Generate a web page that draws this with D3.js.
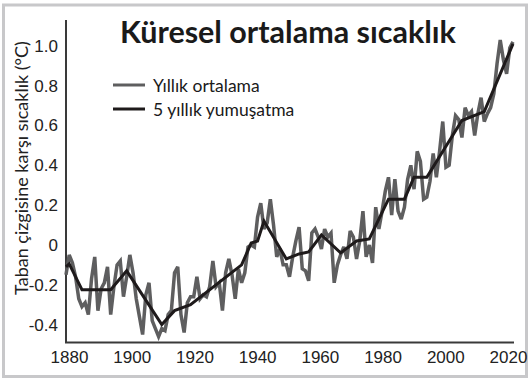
<!DOCTYPE html>
<html><head><meta charset="utf-8">
<script src="https://cdn.jsdelivr.net/npm/d3@7"></script>
<style>
html,body{margin:0;padding:0;background:#fff;}
svg{display:block;}
</style></head>
<body>
<svg id="chart" width="531" height="381"></svg>
<script>
// ---- data ----
const title = "Küresel ortalama sıcaklık";
const yLabel = "Taban çizgisine karşı sıcaklık (°C)";
const seriesNames = ["Yıllık ortalama", "5 yıllık yumuşatma"];
const startYear = 1880;
const annualValues = [
 -0.16,-0.06,-0.10,-0.17,-0.28,-0.32,-0.30,-0.36,-0.18,-0.07,
 -0.34,-0.23,-0.20,-0.12,-0.36,-0.22,-0.11,-0.09,-0.27,-0.17,
 -0.06,-0.15,-0.28,-0.37,-0.46,-0.26,-0.20,-0.39,-0.43,-0.47,
 -0.43,-0.44,-0.36,-0.34,-0.15,-0.12,-0.36,-0.45,-0.30,-0.27,
 -0.27,-0.17,-0.28,-0.26,-0.27,-0.22,-0.09,-0.22,-0.20,-0.34,
 -0.15,-0.08,-0.16,-0.28,-0.13,-0.20,-0.15,-0.02,-0.01,-0.02,
  0.13, 0.20, 0.07, 0.10, 0.22, 0.09,-0.07,-0.03,-0.11,-0.11,
 -0.17,-0.07, 0.01, 0.08,-0.13,-0.14,-0.19, 0.05, 0.07, 0.03,
 -0.03, 0.07, 0.03, 0.05,-0.20,-0.11,-0.06,-0.02,-0.08, 0.06,
  0.03,-0.08, 0.01, 0.16,-0.07,-0.01,-0.10, 0.18, 0.07, 0.16,
  0.26, 0.33, 0.14, 0.32, 0.16, 0.12, 0.18, 0.32, 0.39, 0.27,
  0.46, 0.41, 0.22, 0.23, 0.31, 0.45, 0.33, 0.46, 0.61, 0.38,
  0.39, 0.54, 0.64, 0.62, 0.53, 0.68, 0.64, 0.66, 0.54, 0.65,
  0.73, 0.61, 0.65, 0.68, 0.75, 0.90, 1.02, 0.92, 0.85, 0.98,
  1.01
];
const annualYears = annualValues.map((v, i) => startYear + i);
const smoothYears  = [1880, 1881, 1885, 1894, 1899, 1910, 1914, 1919, 1935, 1938, 1940, 1942, 1949, 1953, 1956, 1960, 1966, 1971, 1975, 1981, 1986, 1989, 1993, 2004, 2011, 2020];
const smoothValues = [-0.12,-0.105,-0.235,-0.235,-0.14,-0.41,-0.34,-0.31,-0.11, 0.0, 0.01, 0.11,-0.08,-0.055,-0.045, 0.04,-0.05, 0.01, 0.02, 0.22, 0.22, 0.33, 0.33, 0.615, 0.66, 1.0];
const yTicks = [1.0, 0.8, 0.6, 0.4, 0.2, 0, -0.2, -0.4];
const yTickLabels = ["1.0","0.8","0.6","0.4","0.2","0","-0.2","-0.4"];
const xTicks = [1880, 1900, 1920, 1940, 1960, 1980, 2000, 2020];

// ---- drawing ----
const svg = d3.select("#chart");
const annualColor = "#5e5e5f", smoothColor = "#1e1a1b", axisColor = "#3a3a3a";
const tickFont = "'Liberation Sans Narrow','Liberation Sans',sans-serif";
const textFont = "Lato, 'Noto Sans', sans-serif";

svg.append("rect").attr("x", 3.5).attr("y", 5).attr("width", 523).attr("height", 371.5)
  .attr("fill", "#fff").attr("stroke", "#c8c8ca").attr("stroke-width", 3);

const x = d3.scaleLinear().domain([1880, 2020]).range([66, 513]);
const xLabelScale = d3.scaleLinear().domain([1880, 2020]).range([69, 508]);
const y = d3.scaleLinear().domain([-0.5, 1.12]).range([342.5, 20]);

// axes lines
svg.append("line").attr("x1", x(1880)).attr("x2", x(1880)).attr("y1", y(1.12)).attr("y2", y(-0.5))
  .attr("stroke", axisColor).attr("stroke-width", 2);
svg.append("line").attr("x1", x(1880) - 1).attr("x2", x(2020) + 1).attr("y1", y(-0.5)).attr("y2", y(-0.5))
  .attr("stroke", axisColor).attr("stroke-width", 2);

// y tick labels
const yAxis = d3.axisLeft(y).tickValues(yTicks).tickSize(0).tickPadding(0)
  .tickFormat((d, i) => yTickLabels[i]);
const gy = svg.append("g").attr("transform", `translate(58,2)`).call(yAxis);
gy.select(".domain").remove();
gy.selectAll("text").attr("font-family", tickFont).attr("font-size", 17).attr("fill", "#222");

// x tick labels
const xAxis = d3.axisBottom(xLabelScale).tickValues(xTicks).tickSize(0).tickPadding(0)
  .tickFormat(d3.format("d"));
const gx = svg.append("g").attr("transform", `translate(0,351)`).call(xAxis);
gx.select(".domain").remove();
gx.selectAll("text").attr("font-family", tickFont).attr("font-size", 17).attr("fill", "#222");

// lines
const annualLine = d3.line().x((d, i) => x(annualYears[i])).y(d => y(d));
svg.append("path").datum(annualValues).attr("d", annualLine)
  .attr("fill", "none").attr("stroke", annualColor).attr("stroke-width", 3.5).attr("stroke-linejoin", "miter").attr("stroke-miterlimit", 3);
const smoothLine = d3.line().x((d, i) => x(smoothYears[i])).y(d => y(d));
svg.append("path").datum(smoothValues).attr("d", smoothLine)
  .attr("fill", "none").attr("stroke", smoothColor).attr("stroke-width", 3).attr("stroke-linejoin", "miter");

// title
svg.append("text").attr("x", 288).attr("y", 43).attr("text-anchor", "middle")
  .attr("font-family", textFont).attr("font-weight", 700).attr("font-size", 30.5).attr("fill", "#1a1a1a")
  .text(title);

// y label
svg.append("text").attr("transform", "translate(28,168) rotate(-90)").attr("text-anchor", "middle")
  .attr("font-family", textFont).attr("font-size", 18).attr("fill", "#222").text(yLabel);

// legend
const legend = svg.append("g");
const legendColors = [annualColor, smoothColor];
seriesNames.forEach((name, i) => {
  const ly = 85 + i * 24;
  legend.append("line").attr("x1", 113).attr("x2", 145).attr("y1", ly).attr("y2", ly)
    .attr("stroke", legendColors[i]).attr("stroke-width", 3);
  legend.append("text").attr("x", 153).attr("y", ly + 6.5)
    .attr("font-family", textFont).attr("font-size", 17.5).attr("fill", "#1a1a1a").text(name);
});
</script>
</body></html>
